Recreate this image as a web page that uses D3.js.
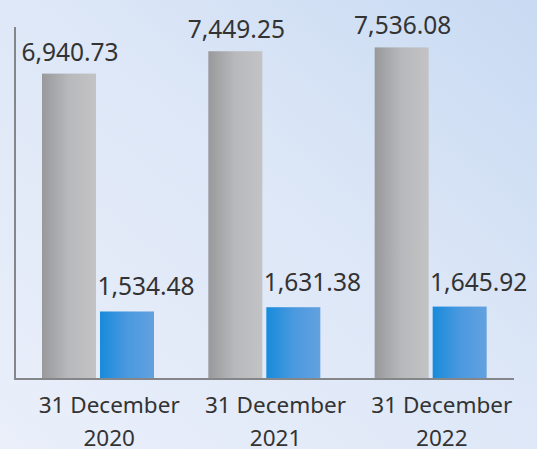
<!DOCTYPE html>
<html>
<head>
<meta charset="utf-8">
<script src="https://cdn.jsdelivr.net/npm/d3@7"></script>
<style>
  html, body { margin: 0; padding: 0; }
  body { width: 537px; height: 449px; overflow: hidden; }
  text { font-family: "Noto Sans", "Open Sans", sans-serif; fill: #333; }
</style>
</head>
<body>
<div id="chart"></div>
<script>
// data
var categories = ["31 December|2020", "31 December|2021", "31 December|2022"];
var grayValues = [6940.73, 7449.25, 7536.08];
var blueValues = [1534.48, 1631.38, 1645.92];

var width = 537, height = 449;
var plotLeft = 15, plotRight = 514, baseline = 379, plotTop = 27;

var svg = d3.select("#chart").append("svg")
    .attr("width", width)
    .attr("height", height);

var defs = svg.append("defs");
var bg = defs.append("linearGradient").attr("id", "bg")
    .attr("x1", "0%").attr("y1", "100%").attr("x2", "100%").attr("y2", "0%");
bg.append("stop").attr("offset", "0%").attr("stop-color", "#eaeffa");
bg.append("stop").attr("offset", "55%").attr("stop-color", "#dde7f7");
bg.append("stop").attr("offset", "100%").attr("stop-color", "#c8daf2");

var gGray = defs.append("linearGradient").attr("id", "gGray");
gGray.append("stop").attr("offset", "0%").attr("stop-color", "#99999b");
gGray.append("stop").attr("offset", "50%").attr("stop-color", "#b8b9bc");
gGray.append("stop").attr("offset", "100%").attr("stop-color", "#c3c3c5");

var gBlue = defs.append("linearGradient").attr("id", "gBlue");
gBlue.append("stop").attr("offset", "0%").attr("stop-color", "#178bdb");
gBlue.append("stop").attr("offset", "50%").attr("stop-color", "#4a99df");
gBlue.append("stop").attr("offset", "100%").attr("stop-color", "#63a1df");

svg.append("rect").attr("width", width).attr("height", height).attr("fill", "url(#bg)");

var x = d3.scaleBand().domain(categories).range([plotLeft, plotRight]);
var y = d3.scaleLinear().domain([0, 8000]).range([baseline, plotTop]);

var barW = 54, gap = 4, pad = 27;
var fmt = d3.format(",.2f");

var groups = svg.selectAll(".grp")
    .data(categories)
    .enter().append("g")
    .attr("class", "grp")
    .attr("transform", function (d) { return "translate(" + x(d) + ",0)"; });

groups.append("rect")
    .attr("x", pad)
    .attr("width", barW)
    .attr("y", function (d, i) { return y(grayValues[i]); })
    .attr("height", function (d, i) { return baseline - y(grayValues[i]); })
    .attr("fill", "url(#gGray)");

groups.append("rect")
    .attr("x", pad + barW + gap)
    .attr("width", barW)
    .attr("y", function (d, i) { return y(blueValues[i]); })
    .attr("height", function (d, i) { return baseline - y(blueValues[i]); })
    .attr("fill", "url(#gBlue)");

groups.append("text")
    .attr("x", pad + barW / 2 + 1)
    .attr("y", function (d, i) { return y(grayValues[i]) - 13; })
    .attr("text-anchor", "middle")
    .style("font-size", "24.5px")
    .text(function (d, i) { return fmt(grayValues[i]); });

groups.append("text")
    .attr("x", pad + barW + gap + barW / 2 + 19)
    .attr("y", function (d, i) { return y(blueValues[i]) - 16; })
    .attr("text-anchor", "middle")
    .style("font-size", "24.5px")
    .text(function (d, i) { return fmt(blueValues[i]); });

// axes
svg.append("line")
    .attr("x1", plotLeft).attr("x2", plotLeft)
    .attr("y1", plotTop).attr("y2", baseline)
    .attr("stroke", "#858689").attr("stroke-width", 2);
svg.append("line")
    .attr("x1", plotLeft - 1).attr("x2", plotRight)
    .attr("y1", baseline).attr("y2", baseline)
    .attr("stroke", "#858689").attr("stroke-width", 2);

// category labels
var lab = svg.selectAll(".lab")
    .data(categories)
    .enter().append("text")
    .attr("class", "lab")
    .attr("text-anchor", "middle")
    .style("font-size", "22.5px")
    .attr("transform", function (d) { return "translate(" + (x(d) + x.bandwidth() / 2 + 11) + ",0)"; });
lab.append("tspan").attr("x", 0).attr("y", 413)
    .text(function (d) { return d.split("|")[0]; });
lab.append("tspan").attr("x", 0).attr("y", 446)
    .text(function (d) { return d.split("|")[1]; });
</script>
</body>
</html>
